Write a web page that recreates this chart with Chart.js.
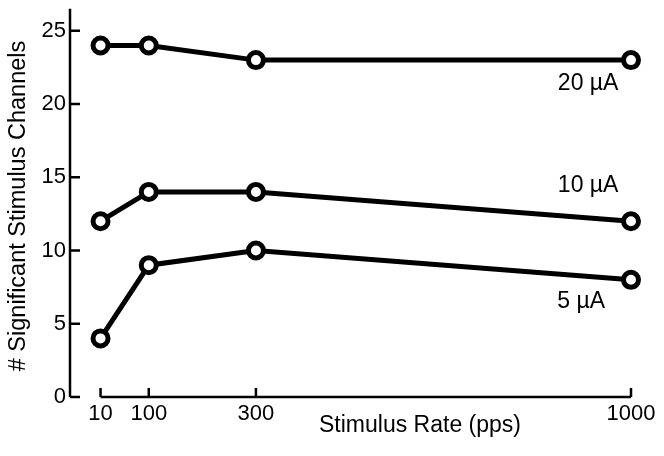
<!DOCTYPE html>
<html>
<head>
<meta charset="utf-8">
<script src="https://cdn.jsdelivr.net/npm/chart.js@4.4.1/dist/chart.umd.min.js"></script>
<style>
  html, body { margin: 0; padding: 0; background: #fff; }
  #wrap { width: 664px; height: 456px; }
</style>
</head>
<body>
<div id="wrap"><canvas id="rateChart" width="664" height="456"></canvas></div>
<script>
// data
var rates = [10, 100, 300, 1000];
var ch20uA = [24, 24, 23, 23];
var ch10uA = [12, 14, 14, 12];
var ch5uA = [4, 9, 10, 8];
var seriesNames = ['20 \u00b5A', '10 \u00b5A', '5 \u00b5A'];
var xTicks = [10, 100, 300, 1000];
var yTicks = [0, 5, 10, 15, 20, 25];
var xTitle = 'Stimulus Rate (pps)';
var yTitle = '# Significant Stimulus Channels';

// where the curve labels sit, in data units
var labelAt = [[920, 21.4], [920, 14.45], [907, 6.5]];
var yAxisTop = 26.5;

var FONT = '"Liberation Sans", Arial, Helvetica, sans-serif';

function makeSet(name, vals) {
    var pts = [];
    for (var i = 0; i < rates.length; i++) pts.push({x: rates[i], y: vals[i]});
    return {
        label: name,
        data: pts,
        borderColor: '#000',
        borderWidth: 5,
        backgroundColor: '#fff',
        pointBackgroundColor: '#fff',
        pointBorderColor: '#000',
        pointBorderWidth: 5,
        pointRadius: 7.5,
        pointHoverRadius: 7.5,
        tension: 0,
        clip: false
    };
}

// axis lines with inward ticks, titles and curve labels
var axesPlugin = {
    id: 'axes',
    beforeDatasetsDraw: function(chart) {
        var c = chart.ctx, xs = chart.scales.x, ys = chart.scales.y;
        var y0 = ys.getPixelForValue(0);
        var left = chart.chartArea.left;
        c.save();
        c.strokeStyle = '#000';
        c.lineWidth = 2.5;
        c.lineCap = 'butt';
        c.beginPath();
        c.moveTo(left, ys.getPixelForValue(yAxisTop));
        c.lineTo(left, y0);
        yTicks.forEach(function(v) {
            var p = ys.getPixelForValue(v);
            c.moveTo(left, p);
            c.lineTo(left + 10, p);
        });
        var xa = xs.getPixelForValue(xTicks[0]);
        var xb = xs.getPixelForValue(xTicks[xTicks.length - 1]);
        c.moveTo(xa, y0);
        c.lineTo(xb, y0);
        xTicks.forEach(function(v) {
            var p = xs.getPixelForValue(v);
            c.moveTo(p, y0);
            c.lineTo(p, y0 - 9);
        });
        c.stroke();

        // axis titles
        c.fillStyle = '#000';
        c.textAlign = 'center';
        c.textBaseline = 'alphabetic';
        c.font = '23px ' + FONT;
        c.fillText(xTitle, 420, 432);
        c.save();
        c.translate(25, 206);
        c.rotate(-Math.PI / 2);
        c.font = '23.5px ' + FONT;
        c.fillText(yTitle, 0, 0);
        c.restore();
        c.restore();
    },
    afterDatasetsDraw: function(chart) {
        var c = chart.ctx, xs = chart.scales.x, ys = chart.scales.y;
        c.save();
        c.fillStyle = '#000';
        c.font = '23px ' + FONT;
        c.textAlign = 'center';
        c.textBaseline = 'middle';
        seriesNames.forEach(function(n, i) {
            c.fillText(n, xs.getPixelForValue(labelAt[i][0]), ys.getPixelForValue(labelAt[i][1]));
        });
        c.restore();
    }
};

var ctx = document.getElementById('rateChart').getContext('2d');
var chart = new Chart(ctx, {
    type: 'line',
    data: {
        datasets: [makeSet(seriesNames[0], ch20uA), makeSet(seriesNames[1], ch10uA), makeSet(seriesNames[2], ch5uA)]
    },
    options: {
        responsive: false,
        animation: false,
        layout: { padding: { top: 5, right: 33, left: 0, bottom: 0 } },
        plugins: {
            legend: { display: false },
            tooltip: { enabled: false }
        },
        scales: {
            x: {
                type: 'linear',
                min: -47,
                max: 1000,
                grid: { display: false, drawTicks: false },
                border: { display: false },
                afterBuildTicks: function(s) { s.ticks = xTicks.map(function(v) { return {value: v}; }); },
                afterFit: function(s) { s.height = 59; s.paddingLeft = 0; s.paddingRight = 0; },
                ticks: {
                    color: '#000',
                    padding: 4,
                    maxRotation: 0,
                    font: { family: FONT, size: 22 },
                    callback: function(v) { return String(v); }
                },
                title: { display: false }
            },
            y: {
                min: 0,
                max: 26.25,
                grid: { display: false, drawTicks: false },
                border: { display: false },
                afterBuildTicks: function(s) { s.ticks = yTicks.map(function(v) { return {value: v}; }); },
                afterFit: function(s) { s.width = 70; s.paddingTop = 0; s.paddingBottom = 0; },
                ticks: {
                    color: '#000',
                    padding: 4,
                    font: { family: FONT, size: 22 }
                },
                title: { display: false }
            }
        }
    },
    plugins: [axesPlugin]
});
</script>
</body>
</html>
